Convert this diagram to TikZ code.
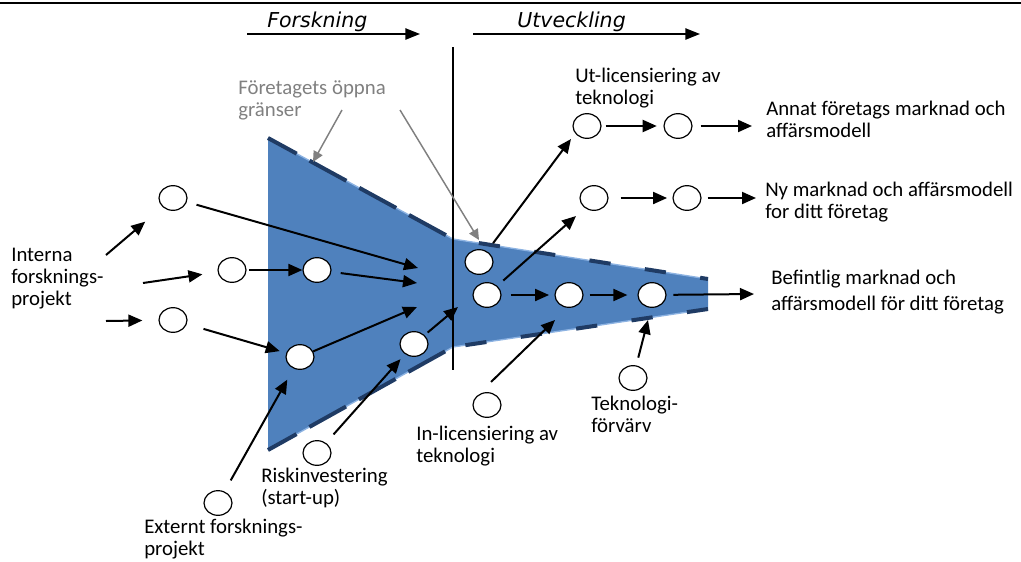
\documentclass[tikz,border=0pt]{standalone}
\usepackage{fontspec}
\setmainfont{Carlito}
\newfontfamily\headfont{DejaVu Sans}
\usetikzlibrary{arrows.meta,shapes.geometric}
\definecolor{funnelblue}{HTML}{4F81BD}
\definecolor{edgenavy}{HTML}{1F3B64}
\definecolor{edgelight}{HTML}{8DB3E2}
\definecolor{notegray}{HTML}{808080}

\begin{document}
\begin{tikzpicture}[x=0.75pt,y=-0.75pt,
  idea/.style={ellipse,draw=black,line width=0.9pt,fill=white,minimum width=21pt,minimum height=18.5pt,inner sep=0pt},
  flow/.style={line width=1.5pt,-{Triangle[length=10.5pt,width=9pt]}},
  note/.style={line width=1.1pt,draw=notegray,-{Triangle[length=8pt,width=7.5pt]}},
  hdarrow/.style={line width=1.1pt,-{Triangle[length=11pt,width=8.5pt]}},
  txt/.style={font=\fontsize{15.6}{16.5}\selectfont,align=left,anchor=west,inner sep=0pt},
  edgedash/.style={line width=3pt,draw=edgenavy},
]
\useasboundingbox (0,0) rectangle (1021,561);

% funnel body
\fill[funnelblue] (268,138) -- (453,239) -- (708,279) -- (708,309) -- (453,347) -- (268,450) -- cycle;
\draw[edgelight,line width=1pt] (268,138) -- (453,239) -- (708,279);
\draw[edgelight,line width=1pt] (268,450) -- (453,347) -- (708,309);
\draw[edgedash,dash pattern=on 31.5pt off 11pt,dash phase=7pt] (268,138) -- (453,239);
\draw[edgedash,dash pattern=on 31.5pt off 11pt,dash phase=7pt] (268,450) -- (453,347);
\draw[edgedash,dash pattern=on 16pt off 26pt,dash phase=10pt] (708,279) -- (453,239);
\draw[edgedash,dash pattern=on 16pt off 26pt] (708,309) -- (453,347);

% top rule and phase divider
\coordinate (rulel) at (0,3);
\coordinate (ruler) at (1021,3);
\draw[line width=2pt] (rulel) -- (ruler);
\coordinate (divtop) at (453,47);
\coordinate (divbot) at (453,370);
\draw[line width=2.2pt] (divtop) -- (divbot);

% phase headings
\node[anchor=base west,inner sep=0pt,font=\headfont\itshape\fontsize{15.4}{18}\selectfont] (forsk) at (267,27) {Forskning};
\node[anchor=base west,inner sep=0pt,font=\headfont\itshape\fontsize{15.4}{18}\selectfont] (utv) at (517,27) {Utveckling};
\coordinate (fa) at (247,34);
\coordinate (fb) at (420,34);
\coordinate (ua) at (473,34);
\coordinate (ub) at (700,34);
\draw[hdarrow] (fa) -- (fb);
\draw[hdarrow] (ua) -- (ub);

% free arrow ends
\coordinate (m1) at (418,268);
\coordinate (m2) at (417,283);
\coordinate (m3) at (417,307);
\coordinate (m4) at (458,307);
\coordinate (u1) at (571,139);
\coordinate (u2) at (576,216);
\coordinate (u3) at (555,320);
\coordinate (u4) at (648,320);
\coordinate (e1) at (752,126);
\coordinate (e2) at (756,198);
\coordinate (e3) at (754,294);
\coordinate (ia) at (106,255);
\coordinate (ib) at (143,283);
\coordinate (ic) at (106,321);
\coordinate (gs1) at (342,110);
\coordinate (gt1) at (313,162);
\coordinate (gs2) at (400,110);
\coordinate (gt2) at (479,240);

% ideas / projects
\node[idea] (c1) at (173,198) {};
\node[idea] (c2) at (232,270) {};
\node[idea] (c3) at (317,270) {};
\node[idea] (c4) at (173,320) {};
\node[idea] (c5) at (300,357) {};
\node[idea] (c6) at (414,344) {};
\node[idea] (c7) at (479,262) {};
\node[idea] (c8) at (487,295) {};
\node[idea] (c9) at (569,295) {};
\node[idea] (c10) at (652,295) {};
\node[idea] (c11) at (587,126) {};
\node[idea] (c12) at (678,126) {};
\node[idea] (c13) at (594,198) {};
\node[idea] (c14) at (687,198) {};
\node[idea] (c15) at (487,405) {};
\node[idea] (c16) at (633,378) {};
\node[idea] (c17) at (317,453) {};
\node[idea] (c18) at (218,503) {};

% flows
\draw[flow,shorten >=17pt] (ia) -- (c1);
\draw[flow,shorten >=11.5pt] (ib) -- (c2);
\draw[flow,shorten >=12pt] (ic) -- (c4);
\draw[flow,shorten <=7.5pt] (c1) -- (m1);
\draw[flow,shorten <=2pt] (c2) -- (c3);
\draw[flow,shorten <=7pt] (c3) -- (m2);
\draw[flow,shorten <=13pt,shorten >=5pt] (c4) -- (c5);
\draw[flow] (c5) -- (m3);
\draw[flow,shorten <=3pt] (c6) -- (m4);
\draw[flow,shorten <=8.5pt,shorten >=5pt] (c17) -- (c6);
\draw[flow,shorten <=9.5pt,shorten >=9.5pt] (c18) -- (c5);
\draw[flow,shorten <=7.5pt] (c7) -- (u1);
\draw[flow,shorten <=6pt] (c8) -- (u2);
\draw[flow,shorten <=7pt,shorten >=4pt] (c8) -- (c9);
\draw[flow,shorten <=4.5pt,shorten >=7.5pt] (c9) -- (c10);
\draw[flow,shorten <=5pt] (c10) -- (e3);
\draw[flow,shorten <=3pt,shorten >=5pt] (c11) -- (c12);
\draw[flow,shorten <=6pt] (c12) -- (e1);
\draw[flow,shorten <=9pt,shorten >=4pt] (c13) -- (c14);
\draw[flow,shorten <=4.5pt] (c14) -- (e2);
\draw[flow,shorten <=15pt] (c15.north west) -- (u3);
\draw[flow,shorten <=6pt] (c16) -- (u4);
\draw[note] (gs1) -- (gt1);
\draw[note] (gs2) -- (gt2);

% labels
\node[txt,text=notegray] (tOpen) at (238,100) {Företagets öppna\\gränser};
\node[txt] (tUt) at (575,88) {Ut-licensiering av\\teknologi};
\node[txt] (tAnnat) at (766,119.5) {Annat företags marknad och\\affärsmodell};
\node[txt] (tNy) at (765,202.5) {Ny marknad och affärsmodell\\for ditt företag};
\node[txt,font=\fontsize{15.6}{20}\selectfont] (tBef) at (771,292) {Befintlig marknad och\\affärsmodell för ditt företag};
\node[txt] (tInt) at (11,279) {Interna\\forsknings-\\projekt};
\node[txt] (tIn) at (416,446) {In-licensiering av\\teknologi};
\node[txt] (tTek) at (591,414) {Teknologi-\\förvärv};
\node[txt] (tRisk) at (261,488) {Riskinvestering\\(start-up)};
\node[txt] (tExt) at (144,539.5) {Externt forsknings-\\projekt};
\end{tikzpicture}
\end{document}
